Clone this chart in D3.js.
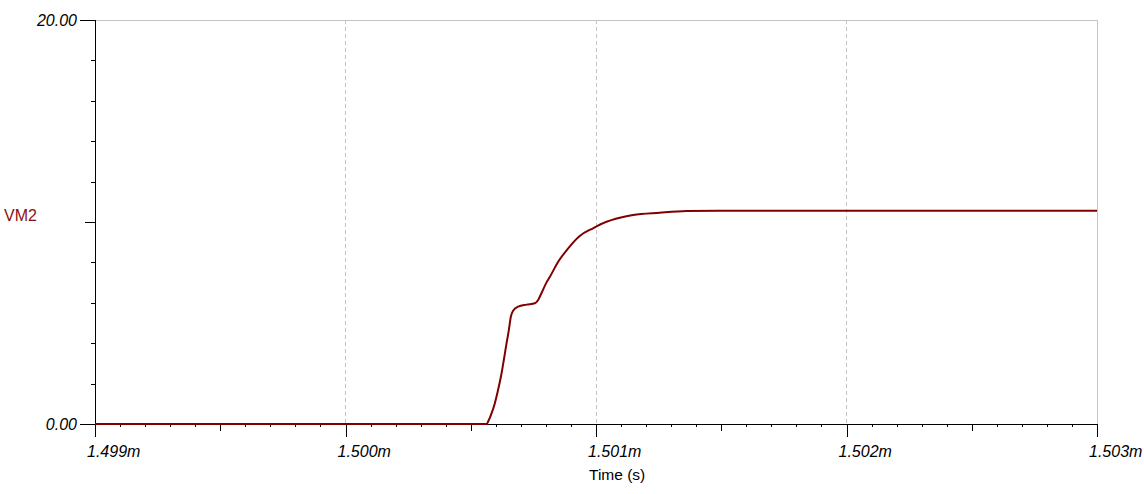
<!DOCTYPE html>
<html>
<head>
<meta charset="utf-8">
<script src="https://cdn.jsdelivr.net/npm/d3@7"></script>
<style>
  body { margin: 0; background: #fff; }
  svg { display: block; font-family: "Liberation Sans", Arial, sans-serif; }
</style>
</head>
<body>
<div id="chart"></div>
<script>
// time in ms, voltage in V
var timeMs = [1.499, 1.500564, 1.500569, 1.500583, 1.500596, 1.500609, 1.500623, 1.500632,
  1.500643, 1.500652, 1.500660, 1.500669, 1.500689, 1.500723, 1.500756, 1.500769,
  1.500782, 1.500802, 1.500816, 1.500849, 1.500889, 1.500935, 1.500988, 1.501042,
  1.501095, 1.501148, 1.501254, 1.501361, 1.501534, 1.503];
var vm2 = [0, 0, 0.11, 0.53, 1.02, 1.68, 2.51, 3.17,
  4.0, 4.65, 5.31, 5.61, 5.81, 5.91, 5.98, 6.14,
  6.47, 7.0, 7.29, 8.03, 8.70, 9.31, 9.69, 10.01,
  10.21, 10.35, 10.46, 10.54, 10.56, 10.56];

var xMajor = [1.499, 1.500, 1.501, 1.502, 1.503];
var xTickLabels = ["1.499m", "1.500m", "1.501m", "1.502m", "1.503m"];
var yMajor = [0, 20];
var yTickLabels = ["0.00", "20.00"];

var W = 1144, H = 494;
var margin = {top: 20, right: 47, bottom: 70, left: 95};
var width = W - margin.left - margin.right;
var height = H - margin.top - margin.bottom;

var svg = d3.select("#chart")
  .append("svg")
    .attr("width", W)
    .attr("height", H);

var g = svg.append("g")
    .attr("transform", "translate(" + margin.left + "," + margin.top + ")");

var x = d3.scaleLinear().domain([1.499, 1.503]).range([0, width]);
var y = d3.scaleLinear().domain([0, 20]).range([height, 0]);

// minor / mid ticks
var xMinor = d3.range(0, 41).map(function(i) { return 1.499 + i * 0.0001; })
  .filter(function(d, i) { return i % 5 != 0; });
var xMid = d3.range(0, 4).map(function(i) { return 1.4995 + i * 0.001; });
var yMinor = [2, 4, 6, 8, 12, 14, 16, 18];
var yMid = [10];

// gridlines
g.selectAll(".vgrid")
  .data(xMajor.slice(1, 4))
  .enter().append("line")
    .attr("x1", function(d) { return x(d); })
    .attr("x2", function(d) { return x(d); })
    .attr("y1", 0)
    .attr("y2", height)
    .attr("stroke", "#c4c4c4")
    .attr("stroke-dasharray", "4,3")
    .attr("shape-rendering", "crispEdges");

g.append("line")
  .attr("x1", 0).attr("x2", width).attr("y1", 0).attr("y2", 0)
  .attr("stroke", "#c4c4c4").attr("shape-rendering", "crispEdges");
g.append("line")
  .attr("x1", width).attr("x2", width).attr("y1", 0).attr("y2", height)
  .attr("stroke", "#c4c4c4").attr("shape-rendering", "crispEdges");

function tickAxis(axis) {
  var a = g.append("g").call(axis);
  a.select(".domain").remove();
  a.selectAll("text").remove();
  a.selectAll("line").attr("stroke", "#000").attr("shape-rendering", "crispEdges");
  return a;
}

// x ticks
tickAxis(d3.axisBottom(x).tickValues(xMinor).tickSize(3)).attr("transform", "translate(0," + height + ")");
tickAxis(d3.axisBottom(x).tickValues(xMid).tickSize(7)).attr("transform", "translate(0," + height + ")");
tickAxis(d3.axisBottom(x).tickValues(xMajor).tickSize(13)).attr("transform", "translate(0," + height + ")");

// y ticks
tickAxis(d3.axisLeft(y).tickValues(yMinor).tickSize(4));
tickAxis(d3.axisLeft(y).tickValues(yMid).tickSize(10));
tickAxis(d3.axisLeft(y).tickValues(yMajor).tickSize(15));

// axis lines
g.append("line")
  .attr("x1", 0).attr("x2", width).attr("y1", height).attr("y2", height)
  .attr("stroke", "#000").attr("shape-rendering", "crispEdges");
g.append("line")
  .attr("x1", 0).attr("x2", 0).attr("y1", 0).attr("y2", height)
  .attr("stroke", "#000").attr("shape-rendering", "crispEdges");

// tick labels (start a little left of the tick, as in the source)
g.selectAll(".xlab")
  .data(xMajor)
  .enter().append("text")
    .attr("x", function(d) { return x(d) - 8; })
    .attr("y", height + 33)
    .attr("text-anchor", "start")
    .attr("font-style", "italic")
    .attr("font-size", "16px")
    .attr("fill", "#000")
    .text(function(d, i) { return xTickLabels[i]; });

g.selectAll(".ylab")
  .data(yMajor)
  .enter().append("text")
    .attr("x", -18)
    .attr("y", function(d) { return y(d) + 5.5; })
    .attr("text-anchor", "end")
    .attr("font-style", "italic")
    .attr("font-size", "16px")
    .attr("fill", "#000")
    .text(function(d, i) { return yTickLabels[i]; });

// axis titles
svg.append("text")
  .attr("x", 4)
  .attr("y", 221)
  .attr("font-size", "16px")
  .attr("fill", "#8b1010")
  .text("VM2");

svg.append("text")
  .attr("x", 589)
  .attr("y", 480)
  .attr("text-anchor", "start")
  .attr("font-size", "15.5px")
  .attr("fill", "#000")
  .text("Time (s)");

// curve
var pts = timeMs.map(function(t, i) { return [t, vm2[i]]; });
g.append("path")
  .datum(pts)
  .attr("fill", "none")
  .attr("stroke", "#800000")
  .attr("stroke-width", 2)
  .attr("d", d3.line()
    .x(function(d) { return x(d[0]); })
    .y(function(d) { return y(d[1]); })
    .curve(d3.curveMonotoneX));
</script>
</body>
</html>
